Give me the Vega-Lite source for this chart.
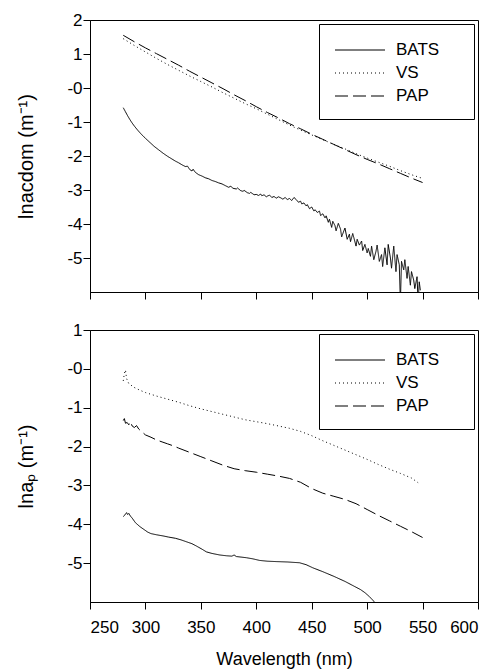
{
  "$schema": "https://vega.github.io/schema/vega-lite/v6.json",
  "padding": {"left": 16, "top": 10, "right": 5, "bottom": 5},
  "background": "white",
  "config": {
    "font": "Liberation Sans",
    "view": {"stroke": "#000", "strokeWidth": 1},
    "axis": {"domainColor": "#000", "tickColor": "#000", "tickSize": 7, "labelFont": "Liberation Sans", "labelFontSize": 17, "labelColor": "#000", "labelOverlap": false, "labelBound": false, "titleFont": "Liberation Sans", "titleFontSize": 18, "titleColor": "#000", "titleFontWeight": "normal", "grid": false},
    "legend": {"orient": "top-right", "offset": 4, "strokeColor": "#000", "fillColor": "white", "padding": 15, "symbolType": "M-2.5,0H2.5", "symbolSize": 400, "symbolOffset": 15, "symbolStrokeWidth": 1.2, "symbolStrokeColor": "#000", "labelFont": "Liberation Sans", "labelFontSize": 17, "labelColor": "#000", "labelOffset": 25, "rowPadding": 4}
  },
  "datasets": {
    "a": [
      {"wl": 280, "ln": 1.55, "site": "PAP"}, {"wl": 290, "ln": 1.36, "site": "PAP"}, {"wl": 300, "ln": 1.18, "site": "PAP"}, {"wl": 310, "ln": 1.01, "site": "PAP"}, {"wl": 320, "ln": 0.84, "site": "PAP"}, {"wl": 330, "ln": 0.67, "site": "PAP"}, {"wl": 340, "ln": 0.49, "site": "PAP"}, {"wl": 350, "ln": 0.32, "site": "PAP"}, {"wl": 360, "ln": 0.15, "site": "PAP"}, {"wl": 370, "ln": -0.02, "site": "PAP"}, {"wl": 380, "ln": -0.2, "site": "PAP"}, {"wl": 390, "ln": -0.37, "site": "PAP"}, {"wl": 400, "ln": -0.55, "site": "PAP"}, {"wl": 410, "ln": -0.72, "site": "PAP"}, {"wl": 420, "ln": -0.88, "site": "PAP"}, {"wl": 430, "ln": -1.05, "site": "PAP"}, {"wl": 440, "ln": -1.2, "site": "PAP"}, {"wl": 450, "ln": -1.36, "site": "PAP"}, {"wl": 460, "ln": -1.51, "site": "PAP"}, {"wl": 470, "ln": -1.66, "site": "PAP"}, {"wl": 480, "ln": -1.81, "site": "PAP"}, {"wl": 490, "ln": -1.96, "site": "PAP"}, {"wl": 500, "ln": -2.1, "site": "PAP"}, {"wl": 510, "ln": -2.23, "site": "PAP"}, {"wl": 520, "ln": -2.37, "site": "PAP"}, {"wl": 530, "ln": -2.51, "site": "PAP"}, {"wl": 540, "ln": -2.65, "site": "PAP"}, {"wl": 550, "ln": -2.78, "site": "PAP"},
      {"wl": 280, "ln": 1.45, "site": "VS"}, {"wl": 290, "ln": 1.25, "site": "VS"}, {"wl": 300, "ln": 1.06, "site": "VS"}, {"wl": 310, "ln": 0.87, "site": "VS"}, {"wl": 320, "ln": 0.69, "site": "VS"}, {"wl": 330, "ln": 0.52, "site": "VS"}, {"wl": 340, "ln": 0.35, "site": "VS"}, {"wl": 350, "ln": 0.19, "site": "VS"}, {"wl": 360, "ln": 0.03, "site": "VS"}, {"wl": 370, "ln": -0.14, "site": "VS"}, {"wl": 380, "ln": -0.3, "site": "VS"}, {"wl": 390, "ln": -0.46, "site": "VS"}, {"wl": 400, "ln": -0.61, "site": "VS"}, {"wl": 410, "ln": -0.77, "site": "VS"}, {"wl": 420, "ln": -0.93, "site": "VS"}, {"wl": 430, "ln": -1.09, "site": "VS"}, {"wl": 440, "ln": -1.24, "site": "VS"}, {"wl": 450, "ln": -1.38, "site": "VS"}, {"wl": 460, "ln": -1.52, "site": "VS"}, {"wl": 470, "ln": -1.66, "site": "VS"}, {"wl": 480, "ln": -1.79, "site": "VS"}, {"wl": 490, "ln": -1.93, "site": "VS"}, {"wl": 500, "ln": -2.06, "site": "VS"}, {"wl": 510, "ln": -2.18, "site": "VS"}, {"wl": 520, "ln": -2.3, "site": "VS"}, {"wl": 530, "ln": -2.43, "site": "VS"}, {"wl": 540, "ln": -2.55, "site": "VS"}, {"wl": 550, "ln": -2.66, "site": "VS"},
      {"wl": 280, "ln": -0.58, "site": "BATS"}, {"wl": 282, "ln": -0.7, "site": "BATS"}, {"wl": 284, "ln": -0.82, "site": "BATS"}, {"wl": 286, "ln": -0.93, "site": "BATS"}, {"wl": 288, "ln": -1.03, "site": "BATS"}, {"wl": 290, "ln": -1.12, "site": "BATS"}, {"wl": 293, "ln": -1.24, "site": "BATS"}, {"wl": 296, "ln": -1.35, "site": "BATS"}, {"wl": 300, "ln": -1.48, "site": "BATS"}, {"wl": 304, "ln": -1.6, "site": "BATS"}, {"wl": 308, "ln": -1.72, "site": "BATS"}, {"wl": 312, "ln": -1.82, "site": "BATS"}, {"wl": 316, "ln": -1.92, "site": "BATS"}, {"wl": 320, "ln": -2.01, "site": "BATS"}, {"wl": 324, "ln": -2.09, "site": "BATS"}, {"wl": 327, "ln": -2.15, "site": "BATS"}, {"wl": 330, "ln": -2.2, "site": "BATS"}, {"wl": 333, "ln": -2.26, "site": "BATS"}, {"wl": 336, "ln": -2.31, "site": "BATS"}, {"wl": 338, "ln": -2.3, "site": "BATS"}, {"wl": 340, "ln": -2.4, "site": "BATS"}, {"wl": 342, "ln": -2.44, "site": "BATS"}, {"wl": 343, "ln": -2.39, "site": "BATS"}, {"wl": 345, "ln": -2.48, "site": "BATS"}, {"wl": 348, "ln": -2.55, "site": "BATS"}, {"wl": 351, "ln": -2.59, "site": "BATS"}, {"wl": 354, "ln": -2.64, "site": "BATS"}, {"wl": 357, "ln": -2.67, "site": "BATS"}, {"wl": 360, "ln": -2.72, "site": "BATS"}, {"wl": 363, "ln": -2.75, "site": "BATS"}, {"wl": 366, "ln": -2.79, "site": "BATS"}, {"wl": 369, "ln": -2.82, "site": "BATS"}, {"wl": 372, "ln": -2.87, "site": "BATS"}, {"wl": 375, "ln": -2.92, "site": "BATS"}, {"wl": 377, "ln": -2.89, "site": "BATS"}, {"wl": 379, "ln": -2.95, "site": "BATS"}, {"wl": 382, "ln": -2.97, "site": "BATS"}, {"wl": 383, "ln": -2.94, "site": "BATS"}, {"wl": 386, "ln": -3.02, "site": "BATS"}, {"wl": 388, "ln": -3.04, "site": "BATS"}, {"wl": 389, "ln": -3.01, "site": "BATS"}, {"wl": 392, "ln": -3.08, "site": "BATS"}, {"wl": 394, "ln": -3.1, "site": "BATS"}, {"wl": 395, "ln": -3.07, "site": "BATS"}, {"wl": 398, "ln": -3.14, "site": "BATS"},
      {"wl": 400, "ln": -3.13, "site": "BATS"}, {"wl": 402, "ln": -3.16, "site": "BATS"}, {"wl": 404, "ln": -3.12, "site": "BATS"}, {"wl": 405, "ln": -3.17, "site": "BATS"}, {"wl": 407, "ln": -3.14, "site": "BATS"}, {"wl": 409, "ln": -3.2, "site": "BATS"}, {"wl": 410, "ln": -3.18, "site": "BATS"}, {"wl": 412, "ln": -3.15, "site": "BATS"}, {"wl": 414, "ln": -3.22, "site": "BATS"}, {"wl": 416, "ln": -3.19, "site": "BATS"}, {"wl": 418, "ln": -3.24, "site": "BATS"}, {"wl": 420, "ln": -3.2, "site": "BATS"}, {"wl": 422, "ln": -3.23, "site": "BATS"}, {"wl": 424, "ln": -3.27, "site": "BATS"}, {"wl": 426, "ln": -3.22, "site": "BATS"}, {"wl": 428, "ln": -3.28, "site": "BATS"}, {"wl": 430, "ln": -3.25, "site": "BATS"}, {"wl": 432, "ln": -3.31, "site": "BATS"}, {"wl": 434, "ln": -3.22, "site": "BATS"}, {"wl": 436, "ln": -3.28, "site": "BATS"}, {"wl": 438, "ln": -3.36, "site": "BATS"}, {"wl": 440, "ln": -3.33, "site": "BATS"}, {"wl": 441, "ln": -3.41, "site": "BATS"}, {"wl": 443, "ln": -3.38, "site": "BATS"}, {"wl": 445, "ln": -3.47, "site": "BATS"}, {"wl": 446, "ln": -3.43, "site": "BATS"}, {"wl": 448, "ln": -3.55, "site": "BATS"}, {"wl": 450, "ln": -3.5, "site": "BATS"}, {"wl": 452, "ln": -3.62, "site": "BATS"}, {"wl": 453, "ln": -3.58, "site": "BATS"}, {"wl": 455, "ln": -3.66, "site": "BATS"}, {"wl": 457, "ln": -3.62, "site": "BATS"}, {"wl": 458, "ln": -3.75, "site": "BATS"}, {"wl": 460, "ln": -3.7, "site": "BATS"}, {"wl": 462, "ln": -3.82, "site": "BATS"}, {"wl": 463, "ln": -3.76, "site": "BATS"}, {"wl": 465, "ln": -3.95, "site": "BATS"}, {"wl": 466, "ln": -3.86, "site": "BATS"}, {"wl": 468, "ln": -4.1, "site": "BATS"}, {"wl": 469, "ln": -3.92, "site": "BATS"}, {"wl": 471, "ln": -4.05, "site": "BATS"}, {"wl": 472, "ln": -4.2, "site": "BATS"}, {"wl": 474, "ln": -3.98, "site": "BATS"}, {"wl": 476, "ln": -4.15, "site": "BATS"}, {"wl": 477, "ln": -4.38, "site": "BATS"}, {"wl": 479, "ln": -4.2, "site": "BATS"}, {"wl": 480, "ln": -4.12, "site": "BATS"}, {"wl": 482, "ln": -4.45, "site": "BATS"}, {"wl": 484, "ln": -4.3, "site": "BATS"}, {"wl": 485, "ln": -4.52, "site": "BATS"}, {"wl": 487, "ln": -4.28, "site": "BATS"}, {"wl": 488, "ln": -4.4, "site": "BATS"}, {"wl": 490, "ln": -4.65, "site": "BATS"}, {"wl": 491, "ln": -4.45, "site": "BATS"}, {"wl": 493, "ln": -4.62, "site": "BATS"}, {"wl": 495, "ln": -4.5, "site": "BATS"}, {"wl": 496, "ln": -4.78, "site": "BATS"}, {"wl": 498, "ln": -4.6, "site": "BATS"}, {"wl": 500, "ln": -4.85, "site": "BATS"}, {"wl": 501, "ln": -4.72, "site": "BATS"}, {"wl": 503, "ln": -4.95, "site": "BATS"}, {"wl": 504, "ln": -4.65, "site": "BATS"}, {"wl": 506, "ln": -5.05, "site": "BATS"}, {"wl": 508, "ln": -4.8, "site": "BATS"}, {"wl": 509, "ln": -4.62, "site": "BATS"}, {"wl": 511, "ln": -5.1, "site": "BATS"}, {"wl": 513, "ln": -4.9, "site": "BATS"}, {"wl": 514, "ln": -5.25, "site": "BATS"}, {"wl": 516, "ln": -4.7, "site": "BATS"}, {"wl": 518, "ln": -5.2, "site": "BATS"}, {"wl": 519, "ln": -4.6, "site": "BATS"}, {"wl": 521, "ln": -5.0, "site": "BATS"}, {"wl": 522, "ln": -5.3, "site": "BATS"}, {"wl": 524, "ln": -4.65, "site": "BATS"}, {"wl": 526, "ln": -5.4, "site": "BATS"}, {"wl": 527, "ln": -4.9, "site": "BATS"}, {"wl": 529, "ln": -5.2, "site": "BATS"}, {"wl": 530, "ln": -6.3, "site": "BATS"}, {"wl": 531, "ln": -5.1, "site": "BATS"}, {"wl": 533, "ln": -5.35, "site": "BATS"}, {"wl": 534, "ln": -5.05, "site": "BATS"}, {"wl": 536, "ln": -5.6, "site": "BATS"}, {"wl": 537, "ln": -5.25, "site": "BATS"}, {"wl": 539, "ln": -5.8, "site": "BATS"}, {"wl": 540, "ln": -5.4, "site": "BATS"}, {"wl": 542, "ln": -5.65, "site": "BATS"}, {"wl": 543, "ln": -5.9, "site": "BATS"}, {"wl": 545, "ln": -5.55, "site": "BATS"}, {"wl": 546, "ln": -6.3, "site": "BATS"}, {"wl": 547, "ln": -5.7, "site": "BATS"}, {"wl": 548, "ln": -5.95, "site": "BATS"}
    ],
    "b": [
      {"wl": 280, "ln": -0.31, "site": "VS"}, {"wl": 281, "ln": -0.12, "site": "VS"}, {"wl": 282, "ln": -0.03, "site": "VS"}, {"wl": 283, "ln": -0.25, "site": "VS"}, {"wl": 285, "ln": -0.38, "site": "VS"}, {"wl": 290, "ln": -0.48, "site": "VS"}, {"wl": 295, "ln": -0.55, "site": "VS"}, {"wl": 300, "ln": -0.61, "site": "VS"}, {"wl": 310, "ln": -0.7, "site": "VS"}, {"wl": 320, "ln": -0.78, "site": "VS"}, {"wl": 330, "ln": -0.86, "site": "VS"}, {"wl": 340, "ln": -0.95, "site": "VS"}, {"wl": 350, "ln": -1.03, "site": "VS"}, {"wl": 360, "ln": -1.1, "site": "VS"}, {"wl": 370, "ln": -1.17, "site": "VS"}, {"wl": 380, "ln": -1.24, "site": "VS"}, {"wl": 390, "ln": -1.31, "site": "VS"}, {"wl": 400, "ln": -1.36, "site": "VS"}, {"wl": 410, "ln": -1.41, "site": "VS"}, {"wl": 420, "ln": -1.47, "site": "VS"}, {"wl": 430, "ln": -1.53, "site": "VS"}, {"wl": 440, "ln": -1.61, "site": "VS"}, {"wl": 450, "ln": -1.72, "site": "VS"}, {"wl": 460, "ln": -1.85, "site": "VS"}, {"wl": 470, "ln": -1.97, "site": "VS"}, {"wl": 480, "ln": -2.09, "site": "VS"}, {"wl": 490, "ln": -2.21, "site": "VS"}, {"wl": 500, "ln": -2.33, "site": "VS"}, {"wl": 510, "ln": -2.46, "site": "VS"}, {"wl": 520, "ln": -2.58, "site": "VS"}, {"wl": 530, "ln": -2.69, "site": "VS"}, {"wl": 540, "ln": -2.81, "site": "VS"}, {"wl": 546, "ln": -2.93, "site": "VS"},
      {"wl": 280, "ln": -1.33, "site": "PAP"}, {"wl": 281, "ln": -1.28, "site": "PAP"}, {"wl": 282, "ln": -1.4, "site": "PAP"}, {"wl": 283.5, "ln": -1.38, "site": "PAP"}, {"wl": 285, "ln": -1.44, "site": "PAP"}, {"wl": 286.5, "ln": -1.36, "site": "PAP"}, {"wl": 288, "ln": -1.47, "site": "PAP"}, {"wl": 290, "ln": -1.51, "site": "PAP"}, {"wl": 292, "ln": -1.46, "site": "PAP"}, {"wl": 294, "ln": -1.55, "site": "PAP"}, {"wl": 296, "ln": -1.6, "site": "PAP"}, {"wl": 300, "ln": -1.7, "site": "PAP"}, {"wl": 305, "ln": -1.76, "site": "PAP"}, {"wl": 310, "ln": -1.83, "site": "PAP"}, {"wl": 315, "ln": -1.88, "site": "PAP"}, {"wl": 320, "ln": -1.93, "site": "PAP"}, {"wl": 325, "ln": -1.98, "site": "PAP"}, {"wl": 330, "ln": -2.04, "site": "PAP"}, {"wl": 340, "ln": -2.15, "site": "PAP"}, {"wl": 350, "ln": -2.26, "site": "PAP"}, {"wl": 360, "ln": -2.37, "site": "PAP"}, {"wl": 370, "ln": -2.48, "site": "PAP"}, {"wl": 380, "ln": -2.57, "site": "PAP"}, {"wl": 390, "ln": -2.62, "site": "PAP"}, {"wl": 400, "ln": -2.66, "site": "PAP"}, {"wl": 410, "ln": -2.71, "site": "PAP"}, {"wl": 420, "ln": -2.76, "site": "PAP"}, {"wl": 430, "ln": -2.82, "site": "PAP"}, {"wl": 440, "ln": -2.92, "site": "PAP"}, {"wl": 450, "ln": -3.08, "site": "PAP"}, {"wl": 460, "ln": -3.2, "site": "PAP"}, {"wl": 470, "ln": -3.28, "site": "PAP"}, {"wl": 480, "ln": -3.36, "site": "PAP"}, {"wl": 490, "ln": -3.47, "site": "PAP"}, {"wl": 500, "ln": -3.62, "site": "PAP"}, {"wl": 510, "ln": -3.77, "site": "PAP"}, {"wl": 520, "ln": -3.91, "site": "PAP"}, {"wl": 530, "ln": -4.05, "site": "PAP"}, {"wl": 540, "ln": -4.19, "site": "PAP"}, {"wl": 550, "ln": -4.34, "site": "PAP"},
      {"wl": 280, "ln": -3.8, "site": "BATS"}, {"wl": 281.5, "ln": -3.76, "site": "BATS"}, {"wl": 283, "ln": -3.7, "site": "BATS"}, {"wl": 284, "ln": -3.75, "site": "BATS"}, {"wl": 285, "ln": -3.72, "site": "BATS"}, {"wl": 286.5, "ln": -3.79, "site": "BATS"}, {"wl": 288, "ln": -3.84, "site": "BATS"}, {"wl": 291, "ln": -3.96, "site": "BATS"}, {"wl": 295, "ln": -4.06, "site": "BATS"}, {"wl": 298.5, "ln": -4.13, "site": "BATS"}, {"wl": 302, "ln": -4.2, "site": "BATS"}, {"wl": 305, "ln": -4.24, "site": "BATS"}, {"wl": 310, "ln": -4.27, "site": "BATS"}, {"wl": 316, "ln": -4.3, "site": "BATS"}, {"wl": 321, "ln": -4.33, "site": "BATS"}, {"wl": 327, "ln": -4.36, "site": "BATS"}, {"wl": 332, "ln": -4.4, "site": "BATS"}, {"wl": 337, "ln": -4.45, "site": "BATS"}, {"wl": 342, "ln": -4.5, "site": "BATS"}, {"wl": 346, "ln": -4.56, "site": "BATS"}, {"wl": 351, "ln": -4.64, "site": "BATS"}, {"wl": 355, "ln": -4.71, "site": "BATS"}, {"wl": 360, "ln": -4.75, "site": "BATS"}, {"wl": 367, "ln": -4.79, "site": "BATS"}, {"wl": 373, "ln": -4.81, "site": "BATS"}, {"wl": 378, "ln": -4.82, "site": "BATS"}, {"wl": 380, "ln": -4.79, "site": "BATS"}, {"wl": 382, "ln": -4.83, "site": "BATS"}, {"wl": 391, "ln": -4.86, "site": "BATS"}, {"wl": 397, "ln": -4.89, "site": "BATS"}, {"wl": 403, "ln": -4.93, "site": "BATS"}, {"wl": 410, "ln": -4.95, "site": "BATS"}, {"wl": 418, "ln": -4.96, "site": "BATS"}, {"wl": 428, "ln": -4.97, "site": "BATS"}, {"wl": 439, "ln": -4.99, "site": "BATS"}, {"wl": 445, "ln": -5.04, "site": "BATS"}, {"wl": 451, "ln": -5.12, "site": "BATS"}, {"wl": 460, "ln": -5.22, "site": "BATS"}, {"wl": 470, "ln": -5.34, "site": "BATS"}, {"wl": 480, "ln": -5.47, "site": "BATS"}, {"wl": 488, "ln": -5.59, "site": "BATS"}, {"wl": 494, "ln": -5.68, "site": "BATS"}, {"wl": 498, "ln": -5.76, "site": "BATS"}, {"wl": 502, "ln": -5.86, "site": "BATS"}, {"wl": 506, "ln": -5.98, "site": "BATS"}, {"wl": 507, "ln": -6.05, "site": "BATS"}
    ]
  },
  "spacing": 20,
  "resolve": {"scale": {"strokeDash": "independent", "y": "independent"}, "legend": {"strokeDash": "independent"}},
  "vconcat": [
    {
      "width": 388,
      "height": 272,
      "layer": [
        {
          "data": {"name": "a"},
          "mark": {"type": "line", "color": "#000", "strokeWidth": 1, "clip": true},
          "encoding": {
            "x": {"field": "wl", "type": "quantitative", "scale": {"domain": [250, 600], "nice": false}, "axis": {"values": [250, 300, 350, 400, 450, 500, 550, 600], "tickCount": 10, "format": "d", "labels": false, "title": null}},
            "y": {"field": "ln", "type": "quantitative", "scale": {"domain": [-6, 2], "nice": false, "zero": false}, "axis": {"values": [-5, -4, -3, -2, -1, 0, 1, 2], "tickCount": 10, "format": "d", "labelOverlap": false, "labelExpr": "datum.value === 0 ? '-0' : replace(datum.label, '−', '-')", "labelPadding": 1, "titlePadding": 30, "titleFontSize": 20, "title": "lnacdom (m⁻¹)"}},
            "strokeDash": {"field": "site", "type": "nominal", "scale": {"domain": ["BATS", "VS", "PAP"], "range": [[1, 0], [1, 3], [13, 5]]}, "legend": {"title": null, "labelExpr": "datum.label + '\u00a0\u00a0\u00a0\u00a0\u200b'"}}
          }
        },
        {
          "mark": {"type": "text", "text": "a", "fontSize": 18, "color": "#000", "font": "Liberation Sans"},
          "encoding": {"x": {"datum": 578}, "y": {"datum": -5.3}}
        }
      ]
    },
    {
      "width": 388,
      "height": 272,
      "layer": [
        {
          "data": {"name": "b"},
          "mark": {"type": "line", "color": "#000", "strokeWidth": 1, "clip": true},
          "encoding": {
            "x": {"field": "wl", "type": "quantitative", "scale": {"domain": [250, 600], "nice": false}, "axis": {"values": [250, 300, 350, 400, 450, 500, 550, 600], "tickCount": 10, "format": "d", "labelPadding": 10, "titlePadding": 15, "title": "Wavelength (nm)"}},
            "y": {"field": "ln", "type": "quantitative", "scale": {"domain": [-6, 1], "nice": false, "zero": false}, "axis": {"values": [-5, -4, -3, -2, -1, 0, 1], "tickCount": 10, "format": "d", "labelOverlap": false, "labelExpr": "datum.value === 0 ? '-0' : replace(datum.label, '−', '-')", "labelPadding": 1, "titlePadding": 30, "titleFontSize": 20, "title": "lnaₚ (m⁻¹)"}},
            "strokeDash": {"field": "site", "type": "nominal", "scale": {"domain": ["BATS", "VS", "PAP"], "range": [[1, 0], [1, 3], [13, 5]]}, "legend": {"title": null, "labelExpr": "datum.label + '\u00a0\u00a0\u00a0\u00a0\u200b'"}}
          }
        },
        {
          "mark": {"type": "text", "text": "b", "fontSize": 18, "color": "#000", "font": "Liberation Sans"},
          "encoding": {"x": {"datum": 579}, "y": {"datum": -5.42}}
        }
      ]
    }
  ]
}
